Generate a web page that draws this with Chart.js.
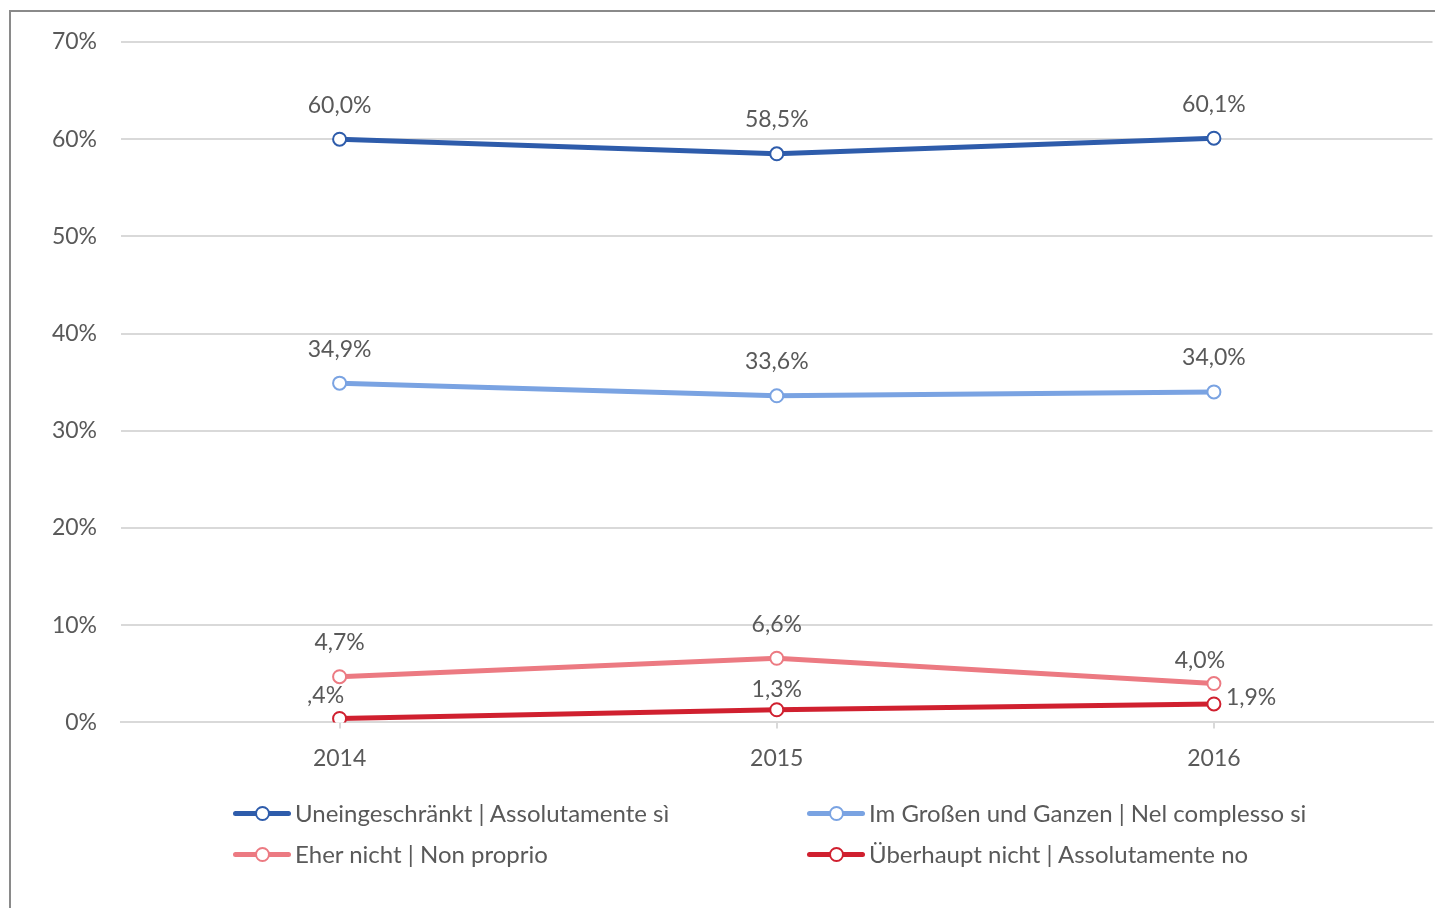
<!DOCTYPE html>
<html>
<head>
<meta charset="utf-8">
<script src="https://cdn.jsdelivr.net/npm/chart.js@4.4.1/dist/chart.umd.min.js"></script>
<style>
  html, body { margin: 0; padding: 0; background: #fff; }
  body { width: 1435px; height: 908px; position: relative; overflow: hidden; font-family: Lato, "Noto Sans", sans-serif; }
  #frame { position: absolute; left: 9px; top: 10px; width: 1440px; height: 910px; border-left: 2px solid #8a8a8a; border-top: 2px solid #8a8a8a; box-sizing: border-box; }
  #wrap { position: absolute; left: 0; top: 0; width: 1441px; height: 908px; }
  #legend { position: absolute; left: 233px; top: 795px; width: 1150px; display: grid; grid-template-columns: 574px 560px; row-gap: 6px; color: #595959; font-size: 24px; }
  .item { display: flex; align-items: center; height: 35px; white-space: nowrap; }
  .sym { position: relative; width: 58px; height: 20px; margin-right: 4px; }
  .sym .ln { position: absolute; left: 0; right: 0; top: 8px; height: 5px; border-radius: 3px; }
  .sym .pt { position: absolute; left: 22px; top: 3px; width: 11px; height: 11px; border-radius: 50%; background: #fff; border: 2px solid; }
</style>
</head>
<body>
<div id="frame"></div>
<div id="wrap"><canvas id="c" width="1441" height="908"></canvas></div>
<div id="legend"></div>
<script>
const categories = ["2014", "2015", "2016"];
const seriesNames = [
  "Uneingeschränkt | Assolutamente sì",
  "Im Großen und Ganzen | Nel complesso si",
  "Eher nicht | Non proprio",
  "Überhaupt nicht | Assolutamente no"
];
const uneingeschraenkt = [60.0, 58.5, 60.1];
const imGrossen = [34.9, 33.6, 34.0];
const eherNicht = [4.7, 6.6, 4.0];
const ueberhauptNicht = [0.4, 1.3, 1.9];
const yTicks = [0, 10, 20, 30, 40, 50, 60, 70];

const colors = ["#2E5CAB", "#7AA3E2", "#EC7A82", "#D0202F"];
const FONT = "Lato, 'Noto Sans', sans-serif";
// label offsets (dx, dy, align) per dataset / point
const labelOffsets = [
  [[0,-34,"center"],[0,-34,"center"],[0,-34,"center"]],
  [[0,-34,"center"],[0,-34,"center"],[0,-34,"center"]],
  [[0,-34,"center"],[0,-34,"center"],[-14,-23,"center"]],
  [[-14,-23,"center"],[0,-20,"center"],[12,-6,"left"]]
];

function fmt(v) {
  let s = v.toFixed(1).replace(".", ",");
  if (s.startsWith("0,")) s = s.slice(1);
  return s + "%";
}

const dataLabelPlugin = {
  id: "dataLabels",
  afterDatasetsDraw(chart) {
    const ctx = chart.ctx;
    ctx.save();
    ctx.font = "23px " + FONT;
    ctx.fillStyle = "#595959";
    ctx.textBaseline = "middle";
    chart.data.datasets.forEach((ds, i) => {
      const meta = chart.getDatasetMeta(i);
      meta.data.forEach((pt, j) => {
        const o = labelOffsets[i][j];
        ctx.textAlign = o[2];
        ctx.fillText(fmt(ds.data[j]), pt.x + o[0], pt.y + o[1]);
      });
    });
    ctx.restore();
  }
};

const seriesData = [uneingeschraenkt, imGrossen, eherNicht, ueberhauptNicht];

const chart = new Chart(document.getElementById("c"), {
  type: "line",
  data: {
    labels: categories,
    datasets: seriesData.map((d, i) => ({
      label: seriesNames[i],
      data: d,
      borderColor: colors[i],
      backgroundColor: "#ffffff",
      pointBackgroundColor: "#ffffff",
      pointBorderColor: colors[i],
      pointBorderWidth: 2,
      pointRadius: 6.5,
      borderWidth: 5,
      tension: 0,
      fill: false
    }))
  },
  options: {
    responsive: false,
    animation: false,
    events: [],
    layout: { padding: { left: 10, right: 0, top: 42, bottom: 120 } },
    plugins: { legend: { display: false }, tooltip: { enabled: false } },
    scales: {
      x: {
        offset: true,
        grid: { display: true, drawOnChartArea: false, drawTicks: true, tickLength: 6, color: "#d9d9d9", lineWidth: 2 },
        border: { display: true, color: "#d9d9d9", width: 2 },
        ticks: { color: "#595959", font: { size: 23, family: FONT }, padding: 16 }
      },
      y: {
        min: 0, max: 70,
        afterBuildTicks(scale) { scale.ticks = yTicks.map(v => ({ value: v })); },
        afterFit(scale) { scale.width = 111; },
        grid: { color: "#d9d9d9", lineWidth: 2, drawTicks: false },
        border: { display: false },
        ticks: { color: "#595959", font: { size: 23, family: FONT }, padding: 24, callback: v => v + "%" }
      }
    }
  },
  plugins: [dataLabelPlugin]
});

const leg = document.getElementById("legend");
[0, 1, 2, 3].forEach(i => {
  const it = document.createElement("div");
  it.className = "item";
  it.innerHTML = '<span class="sym"><span class="ln" style="background:' + colors[i] + '"></span><span class="pt" style="border-color:' + colors[i] + '"></span></span><span></span>';
  it.lastChild.textContent = seriesNames[i];
  leg.appendChild(it);
});
</script>
</body>
</html>
